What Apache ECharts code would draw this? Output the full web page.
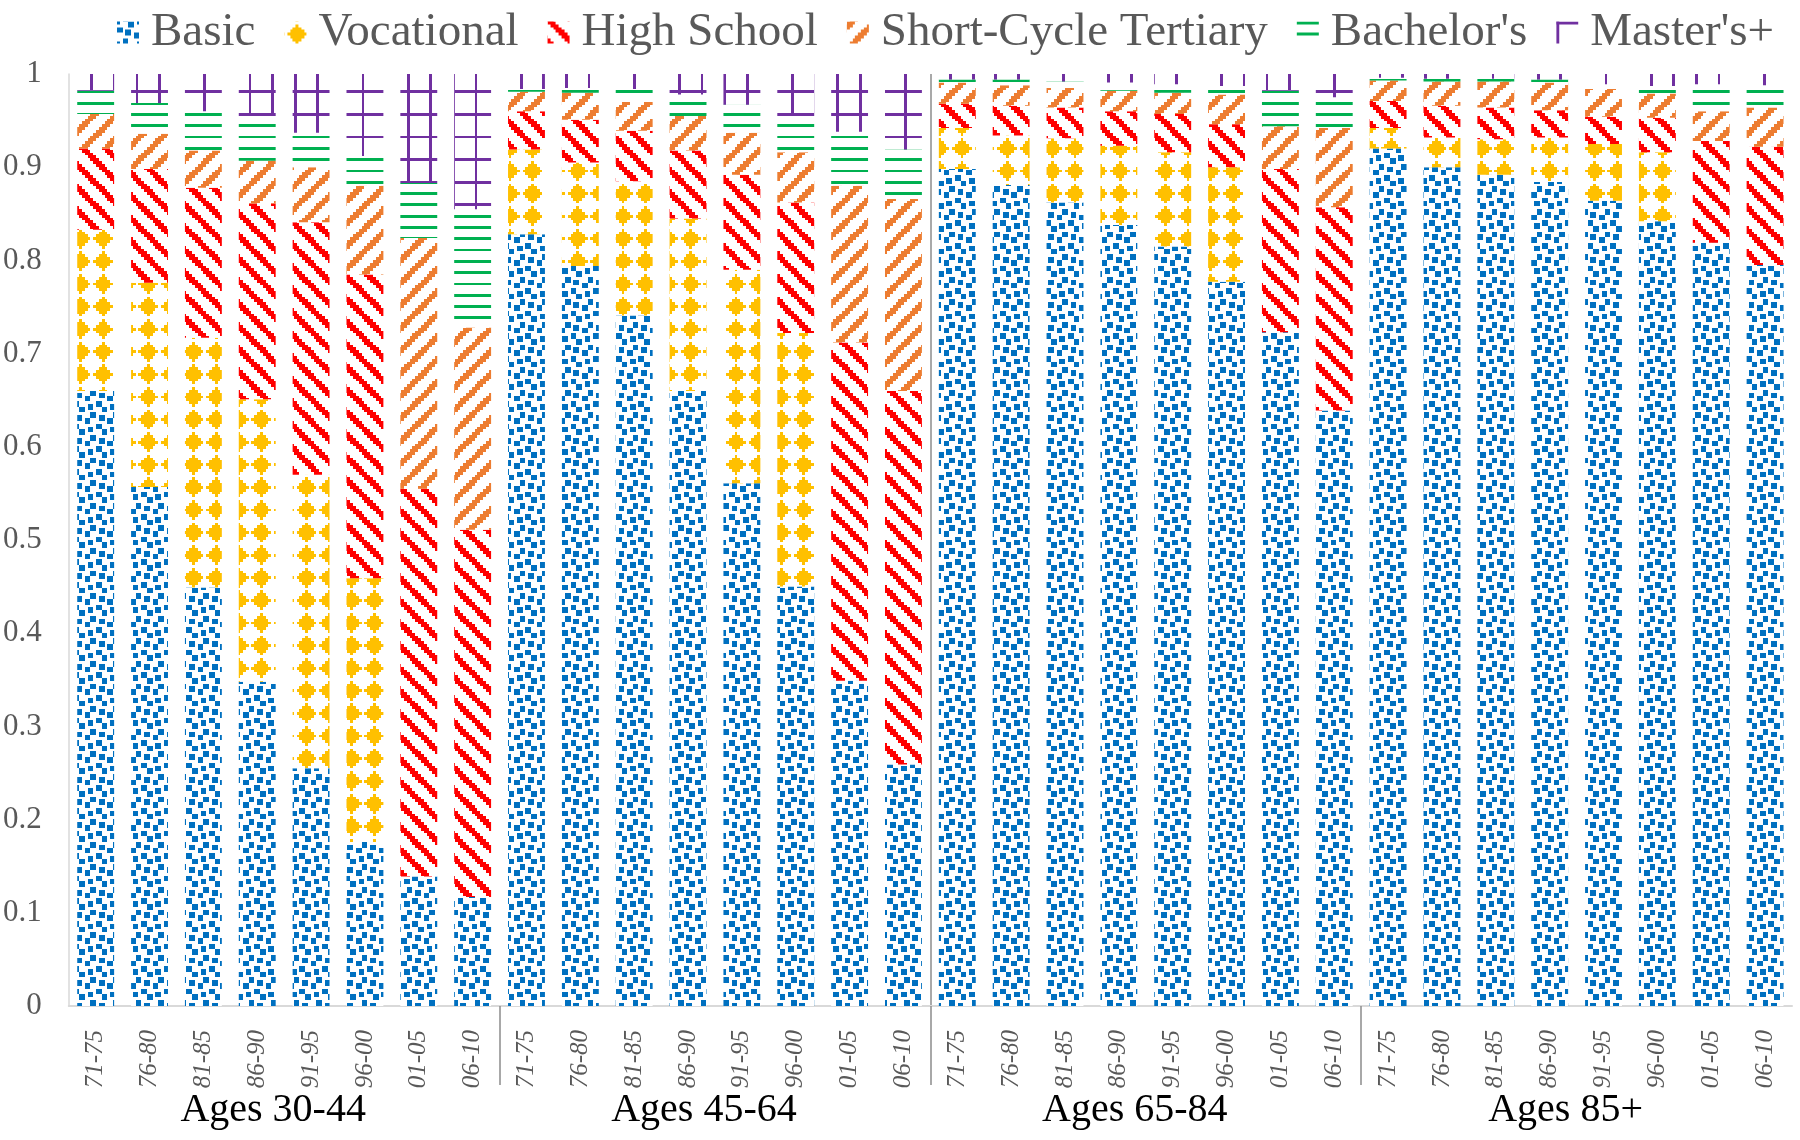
<!DOCTYPE html>
<html><head><meta charset="utf-8">
<script src="https://cdn.jsdelivr.net/npm/echarts@6/dist/echarts.min.js"></script>
<style>html,body{margin:0;padding:0;background:#fff}#chart{width:1800px;height:1140px}</style>
</head><body><div id="chart"></div>
<script>
// ---- data ----
const groups = ['Ages 30-44', 'Ages 45-64', 'Ages 65-84', 'Ages 85+'];
const periods = ['71-75', '76-80', '81-85', '86-90', '91-95', '96-00', '01-05', '06-10'];
const seriesNames = ['Basic', 'Vocational', 'High School', 'Short-Cycle Tertiary', "Bachelor's", "Master's+"];

const basic = [
  0.660, 0.557, 0.449, 0.348, 0.255, 0.176, 0.139, 0.117,
  0.828, 0.794, 0.741, 0.660, 0.561, 0.450, 0.349, 0.259,
  0.898, 0.881, 0.862, 0.838, 0.815, 0.777, 0.723, 0.639,
  0.920, 0.900, 0.892, 0.884, 0.864, 0.842, 0.819, 0.795];
const vocational = [
  0.173, 0.219, 0.268, 0.303, 0.315, 0.283, 0, 0,
  0.091, 0.111, 0.144, 0.185, 0.229, 0.272, 0, 0,
  0.044, 0.053, 0.069, 0.085, 0.101, 0.123, 0, 0,
  0.022, 0.032, 0.038, 0.048, 0.061, 0.074, 0, 0];
const highSchool = [
  0.087, 0.122, 0.161, 0.210, 0.271, 0.326, 0.416, 0.394,
  0.041, 0.046, 0.054, 0.073, 0.102, 0.140, 0.363, 0.401,
  0.026, 0.032, 0.033, 0.037, 0.041, 0.046, 0.175, 0.218,
  0.029, 0.034, 0.034, 0.029, 0.029, 0.037, 0.109, 0.127];
const shortCycle = [
  0.037, 0.038, 0.040, 0.046, 0.059, 0.095, 0.269, 0.217,
  0.021, 0.029, 0.031, 0.037, 0.045, 0.054, 0.168, 0.206,
  0.023, 0.022, 0.021, 0.022, 0.023, 0.032, 0.046, 0.085,
  0.022, 0.026, 0.028, 0.030, 0.030, 0.026, 0.032, 0.042];
const bachelors = [
  0.025, 0.033, 0.042, 0.048, 0.037, 0.032, 0.059, 0.127,
  0.003, 0.005, 0.014, 0.023, 0.030, 0.039, 0.058, 0.053,
  0.003, 0.006, 0.007, 0.009, 0.009, 0.009, 0.038, 0.033,
  0.003, 0.003, 0.003, 0.003, 0.005, 0.008, 0.029, 0.024];
const masters = [
  0.018, 0.031, 0.040, 0.045, 0.063, 0.088, 0.117, 0.145,
  0.016, 0.015, 0.016, 0.022, 0.033, 0.045, 0.062, 0.081,
  0.006, 0.006, 0.008, 0.009, 0.011, 0.013, 0.018, 0.025,
  0.004, 0.005, 0.005, 0.006, 0.011, 0.013, 0.011, 0.012];

// ---- build ----
const seriesData = [basic, vocational, highSchool, shortCycle, bachelors, masters];
const categories = [];
groups.forEach(g => periods.forEach(p => categories.push(g + '|' + p)));
const boundaries = groups.slice(1).map((g, i) => (i + 1) * periods.length);

// 8x8 bit patterns (Excel-style fills), scaled up
function makePattern(color, fn) {
  const S = 226, nb = 80, bit = S / nb;
  const c = document.createElement('canvas');
  c.width = S; c.height = S;
  const ctx = c.getContext('2d');
  ctx.fillStyle = '#ffffff'; ctx.fillRect(0, 0, S, S);
  ctx.fillStyle = color;
  for (let by = 0; by < nb; by++) {
    for (let bx = 0; bx < nb; bx++) {
      if (fn(bx % 8, by % 8)) {
        const x0 = Math.round(bx * bit), x1 = Math.round((bx + 1) * bit);
        const y0 = Math.round(by * bit), y1 = Math.round((by + 1) * bit);
        ctx.fillRect(x0, y0, x1 - x0, y1 - y0);
      }
    }
  }
  return { image: c, repeat: 'repeat' };
}
const confetti = [0x8d, 0x0c, 0xc0, 0xd8, 0x1b, 0x03, 0x30, 0xb1];
const diamond = [0x00, 0x08, 0x1c, 0x3e, 0x7f, 0x3e, 0x1c, 0x08];
const patterns = [
  makePattern('#0070C0', (x, y) => (confetti[y] >> (7 - x)) & 1),
  makePattern('#FFC000', (x, y) => (diamond[y] >> (7 - x)) & 1),
  makePattern('#FF0000', (x, y) => ((x - y + 16) % 8) < 3),
  makePattern('#ED7D31', (x, y) => ((x + y) % 8) < 3),
  makePattern('#00B050', (x, y) => y % 4 === 0),
  makePattern('#7030A0', (x, y) => x === 0 || y === 0)
];

const FONT = '"Liberation Serif", "Times New Roman", serif';

const series = seriesNames.map((name, i) => ({
  name: name,
  type: 'bar',
  stack: 'total',
  data: seriesData[i],
  barCategoryGap: '31.5%',
  itemStyle: { color: patterns[i] },
  emphasis: { disabled: true },
  silent: true
}));

const chart = echarts.init(document.getElementById('chart'), null, { renderer: 'canvas' });
chart.setOption({
  animation: false,
  backgroundColor: '#ffffff',
  legend: {
    data: seriesNames,
    left: 112,
    top: 4,
    icon: 'rect',
    itemWidth: 22,
    itemHeight: 22,
    itemGap: 29,
    selectedMode: false,
    textStyle: { fontFamily: FONT, fontSize: 47, color: '#595959', padding: [0, 0, 0, 7] }
  },
  grid: { left: 68, right: 8, top: 74, bottom: 134, containLabel: false },
  xAxis: [
    {
      type: 'category',
      data: categories,
      boundaryGap: true,
      axisLine: { show: true, lineStyle: { color: '#d9d9d9', width: 2 } },
      axisTick: { show: false },
      splitLine: { show: false },
      axisLabel: {
        interval: 0, rotate: 90, margin: 24,
        fontFamily: FONT, fontStyle: 'italic', fontSize: 25, color: '#595959',
        padding: [0, 0, 12, 0],
        formatter: v => v.split('|')[1]
      }
    },
    {
      type: 'category',
      data: groups,
      position: 'bottom',
      boundaryGap: true,
      axisLine: { show: false },
      axisTick: { show: false },
      splitLine: { show: false },
      axisLabel: {
        interval: 0, margin: 84,
        fontFamily: FONT, fontSize: 40, color: '#000000',
        padding: [0, 22, 0, 0]
      }
    },
    {
      // group separators: value axis spanning the 32 bar slots
      type: 'value',
      min: 0,
      max: categories.length,
      interval: periods.length,
      position: 'bottom',
      axisLine: { show: false },
      axisLabel: { show: false },
      axisTick: {
        show: true, inside: false, length: 79,
        customValues: boundaries,
        lineStyle: { color: '#8c8c8c', width: 1.5 }
      },
      splitLine: {
        show: true, showMinLine: false, showMaxLine: false,
        lineStyle: { color: '#8c8c8c', width: 1.5, type: 'solid' }
      }
    }
  ],
  yAxis: {
    type: 'value',
    min: 0, max: 1, interval: 0.1,
    axisLine: { show: true, lineStyle: { color: '#d9d9d9', width: 1.5 } },
    axisTick: { show: false },
    splitLine: { show: false },
    axisLabel: {
      margin: 27, fontFamily: FONT, fontSize: 31, color: '#595959',
      formatter: v => String(Math.round(v * 10) / 10)
    }
  },
  series: series
});
</script>
</body></html>
